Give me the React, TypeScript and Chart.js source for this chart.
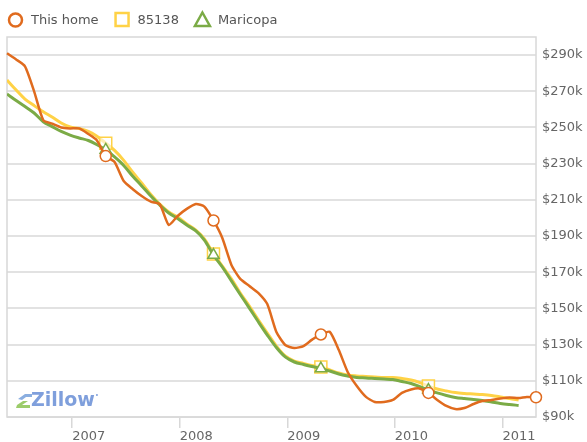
import React, { useEffect, useRef } from 'react';
import { Chart, registerables } from 'chart.js';

Chart.register(...registerables);

// Monthly observations (data dated on the 25th of each month)
const MONTHS = [
  '2006-05', '2006-06', '2006-07', '2006-08', '2006-09', '2006-10', '2006-11', '2006-12',
  '2007-01', '2007-02', '2007-03', '2007-04', '2007-05', '2007-06', '2007-07', '2007-08', '2007-09', '2007-10', '2007-11', '2007-12',
  '2008-01', '2008-02', '2008-03', '2008-04', '2008-05', '2008-06', '2008-07', '2008-08', '2008-09', '2008-10', '2008-11', '2008-12',
  '2009-01', '2009-02', '2009-03', '2009-04', '2009-05', '2009-06', '2009-07', '2009-08', '2009-09', '2009-10', '2009-11', '2009-12',
  '2010-01', '2010-02', '2010-03', '2010-04', '2010-05', '2010-06', '2010-07', '2010-08', '2010-09', '2010-10', '2010-11', '2010-12',
  '2011-01', '2011-02', '2011-03', '2011-04',
];
const DAY_OF_MONTH = 25;

// Values in $k
const THIS_HOME = [
  291.0, 287.6, 283.8, 270.0, 254.1, 252.1, 250.0, 249.5, 249.5, 246.4,
  243.1, 234.2, 230.9, 220.4, 216.0, 212.1, 209.0, 207.7, 196.1, 201.1,
  205.0, 207.7, 206.3, 198.6, 188.9, 174.0, 166.3, 162.4, 158.5, 152.4,
  137.0, 129.8, 128.1, 129.2, 132.6, 135.6, 137.1, 127.0, 114.9, 107.1,
  101.1, 98.3, 98.3, 99.4, 103.3, 105.2, 105.8, 103.3, 99.4, 96.1,
  94.4, 95.0, 97.2, 98.8, 99.4, 100.2, 100.8, 100.5, 101.1, 100.9,
];
const ZIP_85138 = [
  276.2, 270.7, 265.7, 262.1, 258.7, 255.8, 252.5, 250.3, 249.4, 247.8,
  245.3, 241.3, 237.3, 231.8, 225.4, 219.3, 213.0, 207.7, 203.3, 200.5,
  196.7, 193.3, 188.4, 180.1, 173.4, 166.3, 158.5, 151.3, 143.6, 136.4,
  129.2, 123.7, 120.9, 119.6, 118.5, 117.6, 116.0, 114.3, 113.2, 112.7,
  112.4, 112.1, 111.8, 111.8, 111.3, 110.4, 109.1, 107.1, 105.5, 104.4,
  103.5, 103.0, 102.7, 102.4, 101.9, 101.1, 100.2, 99.4,
];
const MARICOPA = [
  268.5, 264.9, 261.6, 258.0, 253.2, 250.5, 247.8, 245.8, 244.2, 242.8,
  240.6, 237.6, 233.7, 229.0, 223.2, 217.7, 212.1, 207.2, 202.7, 199.7,
  196.1, 192.8, 187.8, 179.5, 172.9, 165.2, 157.7, 150.2, 142.5, 135.3,
  128.4, 123.2, 120.4, 119.0, 117.9, 116.8, 115.4, 113.8, 112.7, 111.8,
  111.6, 111.3, 111.0, 110.7, 109.6, 108.5, 106.9, 104.9, 103.3, 101.9,
  100.8, 100.2, 99.7, 99.1, 98.3, 97.5, 96.9, 96.4,
];

const SERIES_LABELS = ['This home', '85138', 'Maricopa'];
const YEAR_TICKS = [2007, 2008, 2009, 2010, 2011];
const Y_TICKS = [90, 110, 130, 150, 170, 190, 210, 230, 250, 270, 290];
const Y_MIN = 90;
const Y_MAX = 300;
const MARKER_PERIOD = 12;
const MARKER_PHASE = 11;

const ORANGE = '#e06b1e';
const YELLOW = '#ffd246';
const GREEN = '#7bab46';
const GRID = '#e2e2e2';
const FRAME = '#d8d8d8';
const TEXT = '#666666';
const FONT = '"DejaVu Sans", Verdana, sans-serif';

function toYear(m: string): number {
  const [y, mo] = m.split('-').map(Number);
  const t = Date.UTC(y, mo - 1, DAY_OF_MONTH);
  const t0 = Date.UTC(y, 0, 1);
  const t1 = Date.UTC(y + 1, 0, 1);
  return y + (t - t0) / (t1 - t0);
}

function toPoints(values: number[]) {
  return values.map((v, i) => ({ x: toYear(MONTHS[i]), y: v }));
}

const markerRadius = (r: number) => (ctx: any) =>
  ctx.dataIndex % MARKER_PERIOD === MARKER_PHASE ? r : 0;

const framePlugin = {
  id: 'frameAndLogo',
  beforeDatasetsDraw(chart: any) {
    const { ctx, chartArea: a } = chart;
    ctx.save();
    ctx.strokeStyle = FRAME;
    ctx.lineWidth = 1.5;
    ctx.strokeRect(a.left, a.top, a.right - a.left, a.bottom - a.top);

    // Zillow watermark
    const lx = a.left + 9;
    const ly = a.bottom - 17;
    ctx.fillStyle = '#8aaee0';
    ctx.beginPath();
    ctx.moveTo(lx + 2, ly - 1);
    ctx.lineTo(lx + 9, ly - 6);
    ctx.lineTo(lx + 16, ly - 6);
    ctx.lineTo(lx + 16, ly - 3);
    ctx.lineTo(lx + 10, ly - 3);
    ctx.lineTo(lx + 6, ly);
    ctx.closePath();
    ctx.fill();
    ctx.fillStyle = '#9ccc6a';
    ctx.beginPath();
    ctx.moveTo(lx, ly + 8);
    ctx.lineTo(lx + 14, ly + 8);
    ctx.lineTo(lx + 14, ly + 5);
    ctx.lineTo(lx + 6, ly + 5);
    ctx.lineTo(lx + 12, ly + 1);
    ctx.lineTo(lx + 7, ly + 1);
    ctx.lineTo(lx + 1, ly + 5);
    ctx.closePath();
    ctx.fill();
    ctx.fillStyle = '#7f9fdc';
    ctx.font = 'bold 19px ' + FONT;
    ctx.textBaseline = 'middle';
    ctx.textAlign = 'left';
    ctx.fillText('Zillow', lx + 15, ly + 1);
    const w = ctx.measureText('Zillow').width;
    ctx.beginPath();
    ctx.arc(lx + 15 + w + 2, ly - 5, 1, 0, Math.PI * 2);
    ctx.fill();
    ctx.restore();
  },
};

const legendPlugin = {
  id: 'topLegend',
  afterDraw(chart: any) {
    const ctx = chart.ctx;
    ctx.save();
    ctx.font = '13px ' + FONT;
    ctx.textBaseline = 'middle';
    ctx.textAlign = 'left';
    const y = 20;
    let cx = 15.5;
    chart.data.datasets.forEach((ds: any) => {
      ctx.lineWidth = 2.5;
      ctx.strokeStyle = ds.borderColor;
      ctx.fillStyle = '#ffffff';
      ctx.beginPath();
      if (ds.pointStyle === 'circle') {
        ctx.arc(cx, y, 6.5, 0, Math.PI * 2);
      } else if (ds.pointStyle === 'rect') {
        ctx.rect(cx - 6.5, y - 7, 13, 13);
      } else {
        ctx.moveTo(cx, y - 7.5);
        ctx.lineTo(cx + 7.5, y + 6);
        ctx.lineTo(cx - 7.5, y + 6);
        ctx.closePath();
      }
      ctx.fill();
      ctx.stroke();
      ctx.fillStyle = '#555555';
      const tx = cx + 15.5;
      ctx.fillText(ds.label, tx, y + 1);
      cx = tx + ctx.measureText(ds.label).width + 23.5;
    });
    ctx.restore();
  },
};

export default function App() {
  const ref = useRef<HTMLCanvasElement | null>(null);

  useEffect(() => {
    if (!ref.current) return;
    const xs = MONTHS.map(toYear);
    const chart = new Chart(ref.current, {
      type: 'line',
      data: {
        datasets: [
          {
            label: SERIES_LABELS[0],
            data: toPoints(THIS_HOME),
            borderColor: ORANGE,
            borderWidth: 2.5,
            tension: 0.2,
            pointStyle: 'circle',
            pointRadius: markerRadius(5.5),
            pointBackgroundColor: '#ffffff',
            pointBorderColor: ORANGE,
            pointBorderWidth: 1.5,
            order: 0,
            clip: false,
          },
          {
            label: SERIES_LABELS[1],
            data: toPoints(ZIP_85138),
            borderColor: YELLOW,
            borderWidth: 3,
            cubicInterpolationMode: 'monotone',
            pointStyle: 'rect',
            pointRadius: markerRadius(8.5),
            pointBackgroundColor: 'rgba(255,255,255,0.6)',
            pointBorderColor: YELLOW,
            pointBorderWidth: 1.5,
            order: 2,
          },
          {
            label: SERIES_LABELS[2],
            data: toPoints(MARICOPA),
            borderColor: GREEN,
            borderWidth: 3,
            cubicInterpolationMode: 'monotone',
            pointStyle: 'triangle',
            pointRadius: markerRadius(6.5),
            pointBackgroundColor: '#ffffff',
            pointBorderColor: GREEN,
            pointBorderWidth: 1.5,
            order: 1,
          },
        ],
      },
      options: {
        animation: false,
        responsive: false,
        layout: { padding: { left: 4, top: 37, right: 0, bottom: 0 } },
        plugins: {
          legend: { display: false },
          tooltip: { enabled: false },
        },
        scales: {
          x: {
            type: 'linear',
            min: xs[0],
            max: xs[xs.length - 1],
            afterBuildTicks: (axis: any) => {
              axis.ticks = YEAR_TICKS.map((v) => ({ value: v }));
            },
            afterFit: (axis: any) => {
              axis.height = 25;
            },
            border: { display: false },
            grid: {
              drawOnChartArea: false,
              drawTicks: true,
              tickLength: 11,
              color: FRAME,
              lineWidth: 1.5,
            },
            ticks: {
              align: 'start',
              padding: 1,
              maxRotation: 0,
              autoSkip: false,
              color: TEXT,
              font: { family: FONT, size: 13 },
              callback: (v: any) => String(v),
            },
          },
          y: {
            type: 'linear',
            position: 'right',
            min: Y_MIN,
            max: Y_MAX,
            afterBuildTicks: (axis: any) => {
              axis.ticks = Y_TICKS.map((v) => ({ value: v }));
            },
            afterFit: (axis: any) => {
              axis.width = 51;
            },
            border: { display: false },
            grid: {
              drawTicks: false,
              color: GRID,
              lineWidth: 2,
            },
            ticks: {
              padding: 6,
              color: TEXT,
              font: { family: FONT, size: 13 },
              callback: (v: any) => '$' + v + 'k',
            },
          },
        },
      },
      plugins: [framePlugin, legendPlugin],
    } as any);
    return () => chart.destroy();
  }, []);

  return (
    <div style={{ position: 'fixed', left: 0, top: 0, width: 587, height: 442, background: '#ffffff' }}>
      <canvas ref={ref} width={587} height={442} style={{ display: 'block' }} />
    </div>
  );
}
